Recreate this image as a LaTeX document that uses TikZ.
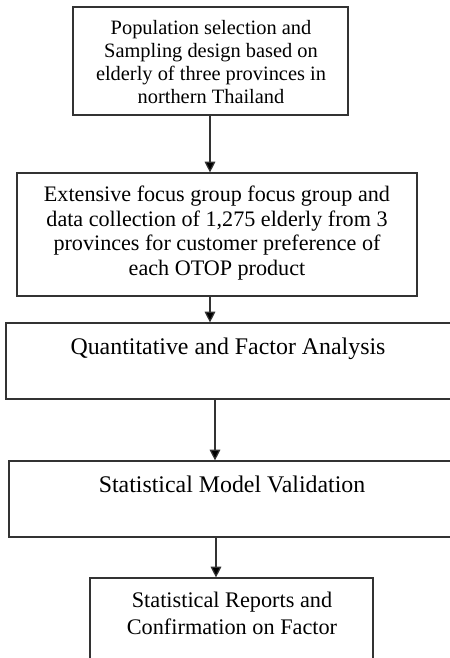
\documentclass[tikz,border=0pt]{standalone}
\usepackage{fontspec}
\setmainfont{Liberation Serif}
\usetikzlibrary{arrows.meta}
\begin{document}
\begin{tikzpicture}[x=0.75pt,y=-0.75pt,
  boxline/.style={draw=black!80,line width=0.9pt,rectangle,inner sep=0pt},
  arr/.style={draw=black!80,line width=0.9pt,-{Triangle[length=8pt,width=8pt,fill=black]}},
  txt/.style={inner sep=0pt,align=center,text=black}]
\useasboundingbox (0,0) rectangle (450,658);
\clip (0,0) rectangle (450,658);
% boxes
\node[boxline,minimum width=206.25pt,minimum height=81pt] (b1) at (210.5,61) {};
\node[boxline,minimum width=300pt,minimum height=92.25pt] (b2) at (217,234.5) {};
\node[boxline,minimum width=340.5pt,minimum height=57pt] (b3) at (233,361) {};
\node[boxline,minimum width=338.25pt,minimum height=57pt] (b4) at (234.5,499) {};
\node[boxline,minimum width=212.25pt,minimum height=69pt] (b5) at (231.5,624) {};
\coordinate (xa) at (210,0);
\coordinate (xb) at (215,0);
\coordinate (xc) at (216,0);
% texts
\node[txt,font=\fontsize{15.3pt}{17.25pt}\selectfont] (t1) at (211,62)
  {Population selection and\\Sampling design based on\\elderly of three provinces in\\northern Thailand};
\node[txt,font=\fontsize{16.6pt}{18.4pt}\selectfont] (t2) at (217,233)
  {Extensive focus group focus group and\\data collection of 1,275 elderly from 3\\provinces for customer preference of\\each OTOP product};
\node[txt,font=\fontsize{17.9pt}{20pt}\selectfont,anchor=base] (t3) at (228,354)
  {Quantitative and Factor Analysis};
\node[txt,font=\fontsize{17.9pt}{20pt}\selectfont,anchor=base] (t4) at (232,492)
  {Statistical Model Validation};
\node[txt,font=\fontsize{16.7pt}{20.25pt}\selectfont] (t5) at (232,613)
  {Statistical Reports and\\Confirmation on Factor};
% arrows
\draw[arr] (b1.south -| xa) -- (b2.north -| xa);
\draw[arr] (b2.south -| xa) -- (b3.north -| xa);
\draw[arr] (b3.south -| xb) -- (b4.north -| xb);
\draw[arr] (b4.south -| xc) -- (b5.north -| xc);
\end{tikzpicture}
\end{document}
